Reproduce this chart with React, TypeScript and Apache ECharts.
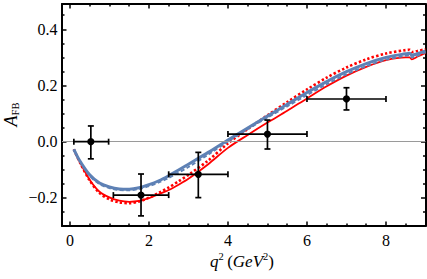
import React, { useEffect, useRef } from 'react';
import * as echarts from 'echarts';

// q^2 sample points of the theory curves
const q2 = [0.1, 0.25, 0.5, 0.75, 1, 1.25, 1.5, 1.75, 2, 2.25, 2.5, 2.75, 3, 3.5, 4, 4.5, 5, 5.5, 6, 6.5, 7, 7.5, 8, 8.5, 8.6, 8.65, 8.8, 9];
const blueSolid = [-0.027, -0.068, -0.118, -0.147, -0.161, -0.168, -0.169, -0.164, -0.153, -0.139, -0.121, -0.101, -0.08, -0.038, 0.006, 0.049, 0.091, 0.133, 0.175, 0.214, 0.249, 0.278, 0.3, 0.313, 0.315, 0.308, 0.313, 0.323];
const blueDashed = [-0.027, -0.069, -0.121, -0.151, -0.165, -0.172, -0.173, -0.168, -0.158, -0.145, -0.129, -0.11, -0.09, -0.046, 0.001, 0.045, 0.086, 0.126, 0.166, 0.205, 0.24, 0.269, 0.292, 0.306, 0.308, 0.3, 0.306, 0.318];
const redDotted = [-0.027, -0.073, -0.138, -0.183, -0.205, -0.216, -0.219, -0.213, -0.199, -0.182, -0.163, -0.141, -0.118, -0.067, -0.006, 0.045, 0.094, 0.141, 0.186, 0.228, 0.264, 0.293, 0.314, 0.326, 0.327, 0.319, 0.323, 0.329];
const redSolid = [-0.027, -0.072, -0.135, -0.178, -0.198, -0.21, -0.214, -0.211, -0.201, -0.187, -0.172, -0.153, -0.132, -0.08, -0.022, 0.024, 0.068, 0.11, 0.154, 0.197, 0.235, 0.266, 0.29, 0.3, 0.3, 0.293, 0.303, 0.315];

// experimental bins
const binCenter = [0.53, 1.8, 3.25, 5.0, 7.0];
const binLow = [0.1, 1.1, 2.5, 4.0, 6.0];
const binHigh = [0.98, 2.5, 4.0, 6.0, 8.0];
const expValue = [0.0, -0.19, -0.116, 0.027, 0.152];
const errUp = [0.056, 0.075, 0.078, 0.05, 0.04];
const errDown = [0.061, 0.074, 0.083, 0.053, 0.039];

// ticks
const xMajorTicks = [0, 2, 4, 6, 8];
const xMinorTicks = [0.5, 1, 1.5, 2.5, 3, 3.5, 4.5, 5, 5.5, 6.5, 7, 7.5, 8.5];
const yMajorTicks = [-0.2, 0, 0.2, 0.4];
const yMinorTicks = [-0.25, -0.15, -0.1, -0.05, 0.05, 0.1, 0.15, 0.25, 0.3, 0.35, 0.45];

const FONT = 'Liberation Serif';
const BLUE = '#5e81b5';
const RED = '#ff0000';

function fmtY(v: number): string {
  if (Math.abs(v) < 1e-9) return '0.0';
  return v < 0 ? '\u2212' + Math.abs(v).toFixed(1) : v.toFixed(1);
}

export default function App() {
  const ref = useRef<HTMLDivElement>(null);
  useEffect(() => {
    if (!ref.current) return;
    const chart = echarts.init(ref.current, null, { renderer: 'svg' });
    const tickStyle = { color: '#000', width: 1.5 };
    const baseX = { type: 'value', min: -0.2, max: 9, splitLine: { show: false } };
    const baseY = { type: 'value', min: -0.3, max: 0.49, splitLine: { show: false } };
    const mkAxis = (base: any, position: string, major: boolean, labels: boolean, vals: number[], isY: boolean) => ({
      ...base,
      position,
      axisLine: { show: major, onZero: false, lineStyle: { color: '#000', width: 2 } },
      axisTick: { show: true, inside: true, length: major ? 4.5 : 2.5, lineStyle: tickStyle, customValues: vals },
      axisLabel: labels
        ? {
            show: true,
            customValues: vals,
            color: '#000',
            fontSize: 16,
            fontFamily: FONT,
            margin: isY ? 4.5 : 6,
            formatter: isY ? (v: number) => fmtY(v) : (v: number) => String(v),
          }
        : { show: false },
    });

    const lineData = (ys: number[]) => q2.map((x, i) => [x, ys[i]]);
    const errData = binCenter.map((c, i) => [c, expValue[i], binLow[i], binHigh[i], expValue[i] - errDown[i], expValue[i] + errUp[i]]);

    chart.setOption({
      animation: false,
      backgroundColor: '#fff',
      grid: { left: 62, right: 1.5, top: 4, bottom: 53, show: false, containLabel: false, outerBoundsMode: 'none' },
      xAxis: [
        mkAxis(baseX, 'bottom', true, true, xMajorTicks, false),
        mkAxis(baseX, 'bottom', false, false, xMinorTicks, false),
        mkAxis(baseX, 'top', true, false, xMajorTicks, false),
        mkAxis(baseX, 'top', false, false, xMinorTicks, false),
      ],
      yAxis: [
        mkAxis(baseY, 'left', true, true, yMajorTicks, true),
        mkAxis(baseY, 'left', false, false, yMinorTicks, true),
        mkAxis(baseY, 'right', true, false, yMajorTicks, true),
        mkAxis(baseY, 'right', false, false, yMinorTicks, true),
      ],
      series: [
        {
          type: 'line',
          data: lineData(redSolid),
          showSymbol: false,
          symbol: 'none',
          smooth: 0.3,
          lineStyle: { color: RED, width: 1.8 },
          markLine: {
            silent: true,
            symbol: 'none',
            label: { show: false },
            lineStyle: { color: '#9a9a9a', width: 1, type: 'solid' },
            data: [{ yAxis: 0 }],
          },
        },
        {
          type: 'line',
          data: lineData(redDotted),
          showSymbol: false,
          symbol: 'none',
          smooth: 0.3,
          lineStyle: { color: RED, width: 2.6, type: [2.4, 2.2], cap: 'butt' },
        },
        {
          type: 'line',
          data: lineData(blueSolid),
          showSymbol: false,
          symbol: 'none',
          smooth: 0.3,
          lineStyle: { color: BLUE, width: 3 },
        },
        {
          type: 'line',
          data: lineData(blueDashed),
          showSymbol: false,
          symbol: 'none',
          smooth: 0.3,
          lineStyle: { color: BLUE, width: 2, type: [4, 2.5], cap: 'butt' },
        },
        {
          type: 'custom',
          data: errData,
          encode: { x: 0, y: 1 },
          z: 10,
          renderItem: (_params: any, api: any) => {
            const p = api.coord([api.value(0), api.value(1)]);
            const l = api.coord([api.value(2), api.value(1)]);
            const r = api.coord([api.value(3), api.value(1)]);
            const b = api.coord([api.value(0), api.value(4)]);
            const t = api.coord([api.value(0), api.value(5)]);
            const cap = 3;
            const st = { stroke: '#000', lineWidth: 1.7, fill: null };
            return {
              type: 'group',
              children: [
                { type: 'line', shape: { x1: l[0], y1: l[1], x2: r[0], y2: r[1] }, style: st },
                { type: 'line', shape: { x1: l[0], y1: l[1] - cap, x2: l[0], y2: l[1] + cap }, style: st },
                { type: 'line', shape: { x1: r[0], y1: r[1] - cap, x2: r[0], y2: r[1] + cap }, style: st },
                { type: 'line', shape: { x1: t[0], y1: t[1], x2: b[0], y2: b[1] }, style: st },
                { type: 'line', shape: { x1: t[0] - cap, y1: t[1], x2: t[0] + cap, y2: t[1] }, style: st },
                { type: 'line', shape: { x1: b[0] - cap, y1: b[1], x2: b[0] + cap, y2: b[1] }, style: st },
                { type: 'circle', shape: { cx: p[0], cy: p[1], r: 3.6 }, style: { fill: '#000' } },
              ],
            };
          },
        },
      ],
      graphic: [
        {
          type: 'text',
          x: 11,
          y: 114.5,
          rotation: Math.PI / 2,
          style: {
            text: '{a|A}{b|FB}',
            align: 'center',
            verticalAlign: 'middle',
            fill: '#000',
            rich: {
              a: { fontSize: 18, fontStyle: 'italic', fontFamily: FONT, lineHeight: 20, fill: '#000' },
              b: { fontSize: 10.5, fontFamily: FONT, lineHeight: 13, verticalAlign: 'bottom', fill: '#000' },
            },
          },
        },
        {
          type: 'text',
          x: 242,
          y: 261,
          style: {
            text: '{i|q}{s|2}{n|\u2009(}{i|GeV}{s|2}{n|)}',
            align: 'center',
            verticalAlign: 'middle',
            fill: '#000',
            rich: {
              i: { fontSize: 17, fontStyle: 'italic', fontFamily: FONT, lineHeight: 20, fill: '#000' },
              n: { fontSize: 17, fontFamily: FONT, lineHeight: 20, fill: '#000' },
              s: { fontSize: 10.5, fontFamily: FONT, lineHeight: 10, verticalAlign: 'top', fill: '#000' },
            },
          },
        },
      ],
    });
    return () => chart.dispose();
  }, []);
  return <div ref={ref} style={{ position: 'fixed', left: 0, top: 0, width: 427, height: 279 }} />;
}
